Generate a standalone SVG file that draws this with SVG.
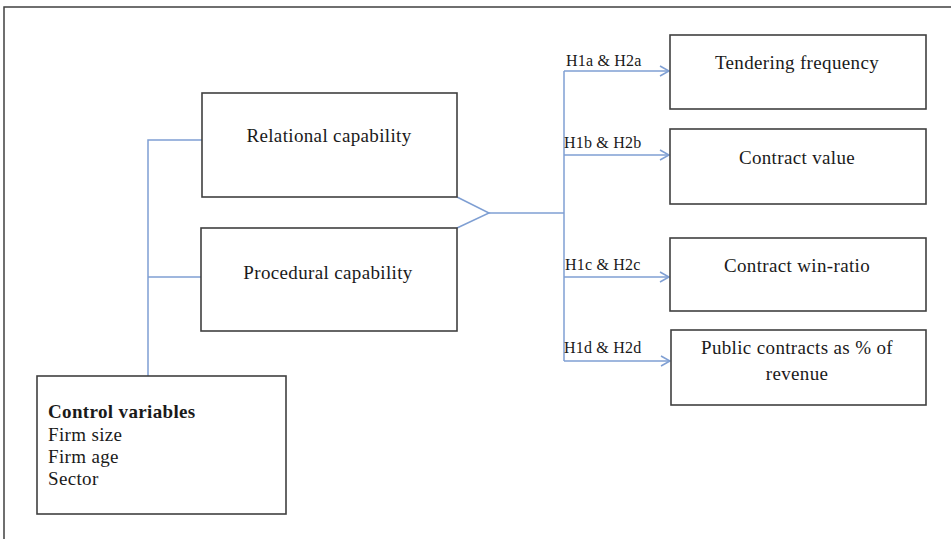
<svg xmlns="http://www.w3.org/2000/svg" width="951" height="539" viewBox="0 0 951 539">
<style>
.box{fill:#fff;stroke:#404040;stroke-width:1.6}
.c{fill:none;stroke:#7f9fd3;stroke-width:1.5}
.t{font-family:"Liberation Serif",serif;font-size:19px;letter-spacing:0.35px;fill:#1a1a1a;text-anchor:middle}
.tl{font-family:"Liberation Serif",serif;font-size:19px;letter-spacing:0.35px;fill:#1a1a1a}
.h{font-family:"Liberation Serif",serif;font-size:16px;letter-spacing:0.2px;fill:#1a1a1a}
</style>
<defs>
<marker id="arr" markerWidth="12" markerHeight="12" refX="10" refY="6" orient="auto" markerUnits="userSpaceOnUse">
<path d="M1,1 L10,6 L1,11" fill="none" stroke="#7f9fd3" stroke-width="1.5"/>
</marker>
</defs>
<rect width="951" height="539" fill="#fff"/>
<g id="frame"><path d="M4,539 L4,7 L951,7" fill="none" stroke="#404040" stroke-width="1.5"/></g>
<g id="connectors">
<path class="c" d="M148,376 L148,140 L202,140"/>
<path class="c" d="M148,277 L201,277"/>
<path class="c" d="M457,197 L489,213 L457,228"/>
<path class="c" d="M489,213 L564,213"/>
<path class="c" d="M564,71 L564,361"/>
<path class="c" d="M564,71 L669,71" marker-end="url(#arr)"/>
<path class="c" d="M564,155 L669,155" marker-end="url(#arr)"/>
<path class="c" d="M564,277 L669,277" marker-end="url(#arr)"/>
<path class="c" d="M564,361 L670,361" marker-end="url(#arr)"/>
<text class="h" x="566" y="66">H1a &amp; H2a</text>
<text class="h" x="564" y="148">H1b &amp; H2b</text>
<text class="h" x="565" y="270">H1c &amp; H2c</text>
<text class="h" x="564" y="353">H1d &amp; H2d</text>
</g>
<g id="relational"><rect class="box" x="202" y="93" width="255" height="104"/><text class="t" x="329" y="142">Relational capability</text></g>
<g id="procedural"><rect class="box" x="201" y="228" width="256" height="103"/><text class="t" x="328" y="279">Procedural capability</text></g>
<g id="control"><rect class="box" x="37" y="376" width="249" height="138"/>
<text class="tl" x="48" y="418" font-weight="bold">Control variables</text>
<text class="tl" x="48" y="441">Firm size</text>
<text class="tl" x="48" y="463">Firm age</text>
<text class="tl" x="48" y="485">Sector</text></g>
<g id="tendering"><rect class="box" x="670" y="35" width="256" height="74"/><text class="t" x="797" y="69">Tendering frequency</text></g>
<g id="value"><rect class="box" x="670" y="129" width="256" height="75"/><text class="t" x="797" y="164">Contract value</text></g>
<g id="winratio"><rect class="box" x="670" y="238" width="256" height="73"/><text class="t" x="797" y="272">Contract win-ratio</text></g>
<g id="public"><rect class="box" x="671" y="330" width="255" height="75"/><text class="t" x="797" y="354">Public contracts as % of</text><text class="t" x="797" y="380">revenue</text></g>
</svg>
